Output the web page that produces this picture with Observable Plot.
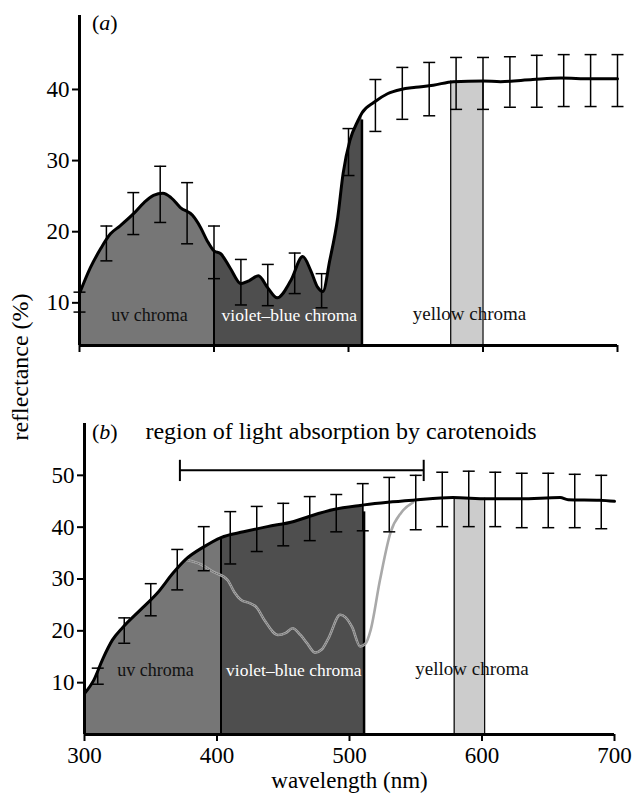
<!DOCTYPE html>
<html>
<head>
<meta charset="utf-8">
<script src="https://cdn.jsdelivr.net/npm/d3@7"></script>
<script src="https://cdn.jsdelivr.net/npm/@observablehq/plot@0.6"></script>
<style>
  body { margin: 0; background: white; }
  #wrap { position: relative; width: 638px; height: 801px; overflow: hidden; background: white; font-family: "Liberation Serif", "DejaVu Serif", serif; }
  #wrap svg { position: absolute; left: 0; overflow: visible; }
  .lbl { position: absolute; white-space: nowrap; color: black; }
</style>
</head>
<body>
<div id="wrap"></div>
<script>
// ---------- data ----------
// panel (a) mean reflectance curve
const A_x = [300,308,316,323,330,340,348,355,362,368,375,384,390,395,400,405,412,420,426,433,440,447,457,466,472,477,481,486,492,496,501,507,510,519,529,539,550,563,578,600,613,637,658,680,700];
const A_y = [11.3,14.9,17.7,19.7,20.8,22.5,24.1,25.1,25.4,24.8,23.4,22.3,20.6,18.7,17.3,16.9,14.9,12.7,13.1,13.8,12.1,10.7,13.1,16.5,14.5,12.2,11.6,15.9,22.0,28.2,32.8,35.6,36.7,38.2,39.4,40.0,40.3,40.6,41.1,41.2,41.1,41.4,41.6,41.5,41.5];
// panel (a) error bars
const errA_x  = [300,320,340,360,380,400,420,440,460,480,500,520,540,560,580,600,620,640,660,680,700];
const errA_lo = [8.7,15.9,19.6,21.3,18.3,13.4,9.7,9.6,11.3,9.3,27.9,34.1,35.8,36.3,37.2,37.2,37.5,37.5,37.6,37.6,37.6];
const errA_hi = [11.5,20.8,25.5,29.2,26.9,20.8,16.1,15.4,17.0,14.1,34.5,41.4,43.1,43.8,44.5,44.5,44.6,44.8,44.9,44.9,44.9];

// panel (b) mean reflectance curve
const B_x = [300,307,314,321,329,342,355,367,376,390,403,420,438,458,470,488,508,511,529,548,578,604,629,659,665,689,700];
const B_y = [7.9,10.5,14.7,18.2,20.7,24.0,27.3,31.2,33.7,36.2,38.0,39.1,40.1,41.1,42.1,43.4,44.2,44.3,44.8,45.2,45.7,45.5,45.5,45.7,45.3,45.2,45.0];
// panel (b) grey (carotenoid-bearing) curve
const G_x = [376,388,397,408,413,418,425,430,436,446,452,457,463,468,474,479,484,493,497,502,508,512,516,523,531,539,548];
const G_y = [33.7,32.8,31.4,29.8,27.5,26.0,25.3,24.5,22.0,19.2,19.6,20.5,19.2,17.6,15.8,16.4,18.5,23.1,22.6,20.7,17.0,17.5,20.2,29.8,39.0,42.8,44.8];
// panel (b) error bars
const errB_x  = [310,330,350,370,390,410,430,450,470,490,510,530,550,570,590,610,630,650,670,690];
const errB_lo = [9.7,17.6,22.9,27.9,31.6,32.9,35.3,36.4,37.4,39.1,39.3,39.1,39.5,40.1,40.1,40.1,39.9,39.9,39.9,39.7];
const errB_hi = [12.8,22.5,29.1,35.7,40.1,43.0,44.0,44.6,45.9,46.3,48.4,49.6,50.0,50.6,50.8,50.6,50.4,50.4,50.2,50.0];

// chroma regions (nm)
const regionsA = {uv: [300, 400], vb: [400, 510], yellow: [576, 600]};
const regionsB = {uv: [300, 403], vb: [403, 511], yellow: [579, 602]};
const yellowTopA = 41.2, yellowTopB = 45.6;
// carotenoid absorption bracket
const bracket = {x1: 372, x2: 556, y: 51, yLo: 48.8, yHi: 52.9};

const xTicks = [300, 400, 500, 600, 700];
const yTicksA = [10, 20, 30, 40];
const yTicksB = [10, 20, 30, 40, 50];
const regionLabels = ["uv chroma", "violet–blue chroma", "yellow chroma"];
const title = "region of light absorption by carotenoids";
const xLabel = "wavelength (nm)";
const yLabel = "reflectance (%)";

// ---------- helpers ----------
const toPts = (xs, ys) => xs.map((x, i) => ({x, y: ys[i]}));
const toErr = (xs, lo, hi) => xs.map((x, i) => ({x, lo: lo[i], hi: hi[i]}));
const capSymbol = {
  draw(ctx, size) {
    const r = Math.sqrt(size / Math.PI);
    ctx.moveTo(-r, 0);
    ctx.lineTo(r, 0);
  }
};
const FONT = "Liberation Serif";
const UV = "#767676", VB = "#4e4e4e", YEL = "#cccccc";

function panel({curve, err, regions, yellowTop, yMin, yDomain, yTicks, labelled, margins, height, labelY, extra}) {
  const uv = curve.filter(d => d.x >= regions.uv[0] && d.x <= regions.uv[1]);
  const vb = curve.filter(d => d.x >= regions.vb[0] && d.x <= regions.vb[1]);
  const at = x => curve.find(d => d.x === x).y;
  return Plot.plot({
    width: 638,
    height,
    ...margins,
    x: {domain: [300, 700]},
    y: {domain: yDomain},
    style: {fontFamily: FONT, fontSize: "23px", background: "transparent", overflow: "visible"},
    marks: [
      Plot.areaY(uv, {x: "x", y1: yMin, y2: "y", fill: UV, curve: "monotone-x"}),
      Plot.areaY(vb, {x: "x", y1: yMin, y2: "y", fill: VB, curve: "monotone-x"}),
      Plot.rectY([{a: regions.yellow[0], b: regions.yellow[1], t: yellowTop}],
        {x1: "a", x2: "b", y1: yMin, y2: "t", fill: YEL}),
      Plot.ruleX([regions.yellow[0], regions.yellow[1]], {x: d => d, y1: yMin, y2: yellowTop, stroke: "black", strokeWidth: 1.2}),
      Plot.ruleX([regions.uv[1]], {x: d => d, y1: yMin, y2: at(regions.uv[1]), stroke: "black", strokeWidth: 2}),
      Plot.ruleX([regions.vb[1]], {x: d => d, y1: yMin, y2: at(regions.vb[1]), stroke: "black", strokeWidth: 2.5, insetBottom: -7}),
      ...(extra || []),
      Plot.text([regionLabels[0]], {x: (regions.uv[0] + regions.uv[1]) / 2 + 2, y: labelY, text: d => d, fill: "#111", fontSize: 18}),
      Plot.text([regionLabels[1]], {x: (regions.vb[0] + regions.vb[1]) / 2 + 1, y: labelY, text: d => d, fill: "white", fontSize: 17.5}),
      Plot.text([regionLabels[2]], {x: (regions.yellow[0] + regions.yellow[1]) / 2 + 2, y: labelY + 0.2, text: d => d, fill: "#111", fontSize: 19}),
      Plot.ruleX(err, {x: "x", y1: "lo", y2: "hi", stroke: "black", strokeWidth: 1.5}),
      Plot.dot(err, {x: "x", y: "lo", symbol: capSymbol, r: 6, fill: "none", stroke: "black", strokeWidth: 1.5}),
      Plot.dot(err, {x: "x", y: "hi", symbol: capSymbol, r: 6, fill: "none", stroke: "black", strokeWidth: 1.5}),
      Plot.line(curve, {x: "x", y: "y", stroke: "black", strokeWidth: 3, curve: "monotone-x"}),
      Plot.ruleX([300], {stroke: "black", strokeWidth: 3}),
      Plot.ruleY([yMin], {stroke: "black", strokeWidth: 3}),
      Plot.axisY({ticks: yTicks, tickSize: 7, tickPadding: 3, strokeWidth: 2, fontSize: 23, label: null}),
      labelled
        ? Plot.axisX({ticks: xTicks, tickSize: 7, tickPadding: 5, strokeWidth: 2, fontSize: 23, label: null})
        : Plot.axisX({ticks: xTicks, tickSize: 7, strokeWidth: 2, tickFormat: () => "", label: null})
    ]
  });
}

const wrap = document.getElementById("wrap");

const plotA = panel({
  curve: toPts(A_x, A_y),
  err: toErr(errA_x, errA_lo, errA_hi),
  regions: regionsA,
  yellowTop: yellowTopA,
  yMin: 4,
  yDomain: [4, 50.4],
  yTicks: yTicksA,
  labelled: false,
  margins: {marginTop: 15, marginBottom: 35, marginLeft: 79, marginRight: 21},
  height: 380,
  labelY: 8.2
});
plotA.style.top = "0px";
wrap.appendChild(plotA);

const grey = toPts(G_x, G_y);
const plotB = panel({
  curve: toPts(B_x, B_y),
  err: toErr(errB_x, errB_lo, errB_hi),
  regions: regionsB,
  yellowTop: yellowTopB,
  yMin: 0,
  yDomain: [0, 60],
  yTicks: yTicksB,
  labelled: true,
  margins: {marginTop: 43, marginBottom: 67, marginLeft: 84, marginRight: 24},
  height: 421,
  labelY: 12.4,
  extra: [
    Plot.line(grey, {x: "x", y: "y", stroke: "#a9a9a9", strokeWidth: 2.6, curve: "monotone-x"}),
    Plot.line(grey.filter(d => d.x <= 512), {x: "x", y: "y", stroke: "#6a6a6a", strokeWidth: 1, strokeDasharray: "1.2 1.4", curve: "monotone-x"}),
    Plot.ruleY([bracket], {x1: "x1", x2: "x2", y: "y", stroke: "black", strokeWidth: 2}),
    Plot.ruleX([bracket.x1, bracket.x2], {x: d => d, y1: bracket.yLo, y2: bracket.yHi, stroke: "black", strokeWidth: 2}),
    Plot.text([title], {x: 346, y: 58.4, text: d => d, textAnchor: "start", fontSize: 24, fill: "black"}),
    Plot.text([xLabel], {frameAnchor: "bottom", dy: 53, text: d => d, fontSize: 23, fill: "black"})
  ]
});
plotB.style.top = "380px";
wrap.appendChild(plotB);

// panel letters and shared y label
function addLabel(html, css) {
  const el = document.createElement("div");
  el.className = "lbl";
  el.innerHTML = html;
  Object.assign(el.style, css);
  wrap.appendChild(el);
}
addLabel("(<i>a</i>)", {left: "92px", top: "10px", fontSize: "22px", lineHeight: "26px"});
addLabel("(<i>b</i>)", {left: "92px", top: "419px", fontSize: "22px", lineHeight: "26px"});
addLabel(yLabel, {left: "20px", top: "367px", fontSize: "24px", transform: "translate(-50%,-50%) rotate(-90deg)"});
</script>
</body>
</html>
